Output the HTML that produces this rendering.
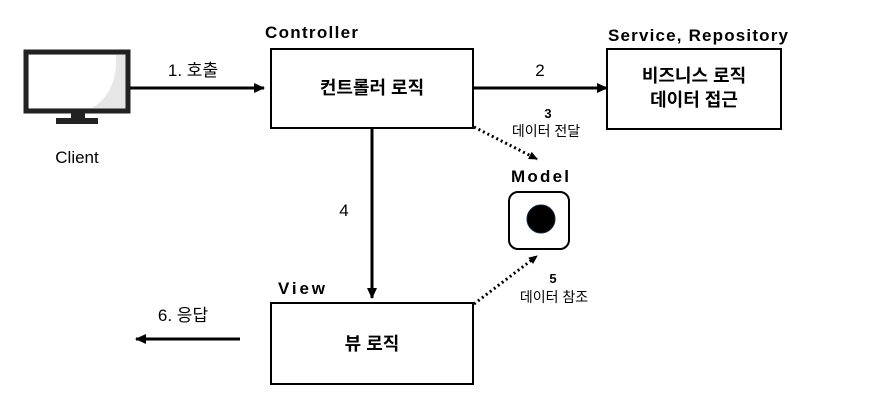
<html><body style="margin:0;background:#fff">
<svg width="878" height="411" xmlns="http://www.w3.org/2000/svg" style="font-family:'Liberation Sans','Noto Sans CJK KR',sans-serif">
<defs><marker id="a" markerWidth="11" markerHeight="10" refX="10" refY="5" orient="auto" markerUnits="userSpaceOnUse"><path d="M0,0 L11,5 L0,10z" fill="#000"/></marker>
<marker id="b" markerWidth="9" markerHeight="8" refX="8" refY="4" orient="auto" markerUnits="userSpaceOnUse"><path d="M0,0 L9,4 L0,8z" fill="#000"/></marker></defs>
<rect x="26" y="52" width="102" height="59" fill="#e6e6e6" stroke="#222" stroke-width="5"/>
<path d="M29,55 H116 Q118,92 92,108 H29z" fill="#fff"/>
<rect x="71" y="111" width="14" height="7" fill="#222"/>
<rect x="56" y="118" width="42" height="6" fill="#222"/>
<text x="77" y="163" font-size="17" text-anchor="middle">Client</text>
<line x1="130" y1="88" x2="264" y2="88" stroke="#000" stroke-width="3" marker-end="url(#a)"/>
<text x="193" y="76" font-size="17" text-anchor="middle">1. 호출</text>
<text x="265" y="38" font-size="17" font-weight="bold" textLength="93">Controller</text>
<rect x="271" y="49" width="202" height="79" fill="#fff" stroke="#000" stroke-width="2"/>
<text x="372" y="94" font-size="18" font-weight="bold" text-anchor="middle">컨트롤러 로직</text>
<line x1="473" y1="88" x2="607" y2="88" stroke="#000" stroke-width="3" marker-end="url(#a)"/>
<text x="540" y="76" font-size="17" text-anchor="middle">2</text>
<text x="608" y="41" font-size="17" font-weight="bold" textLength="180">Service, Repository</text>
<rect x="607" y="49" width="174" height="80" fill="#fff" stroke="#000" stroke-width="2"/>
<text x="694" y="82" font-size="18" font-weight="bold" text-anchor="middle">비즈니스 로직</text>
<text x="694" y="106" font-size="18" font-weight="bold" text-anchor="middle">데이터 접근</text>
<line x1="474" y1="127" x2="537" y2="159" stroke="#000" stroke-width="3" stroke-dasharray="2,3" marker-end="url(#b)"/>
<text x="548" y="118" font-size="13" font-weight="bold" text-anchor="middle">3</text>
<text x="546" y="136" font-size="14" text-anchor="middle">데이터 전달</text>
<text x="511" y="182" font-size="17" font-weight="bold" textLength="58">Model</text>
<rect x="509" y="192" width="60" height="57" rx="9" fill="#fff" stroke="#000" stroke-width="2"/>
<circle cx="541" cy="219" r="14" fill="#000" stroke="#123" stroke-width="1"/>
<line x1="372" y1="128" x2="372" y2="298" stroke="#000" stroke-width="3" marker-end="url(#a)"/>
<text x="344" y="216" font-size="17" text-anchor="middle">4</text>
<line x1="474" y1="304" x2="537" y2="256" stroke="#000" stroke-width="3" stroke-dasharray="2,3" marker-end="url(#b)"/>
<text x="553" y="283" font-size="13" font-weight="bold" text-anchor="middle">5</text>
<text x="554" y="302" font-size="14" text-anchor="middle">데이터 참조</text>
<text x="278" y="294" font-size="17" font-weight="bold" textLength="47">View</text>
<rect x="271" y="303" width="202" height="81" fill="#fff" stroke="#000" stroke-width="2"/>
<text x="372" y="350" font-size="18" font-weight="bold" text-anchor="middle">뷰 로직</text>
<line x1="240" y1="339" x2="136" y2="339" stroke="#000" stroke-width="3" marker-end="url(#a)"/>
<text x="183" y="321" font-size="17" text-anchor="middle">6. 응답</text>
</svg>
</body></html>
